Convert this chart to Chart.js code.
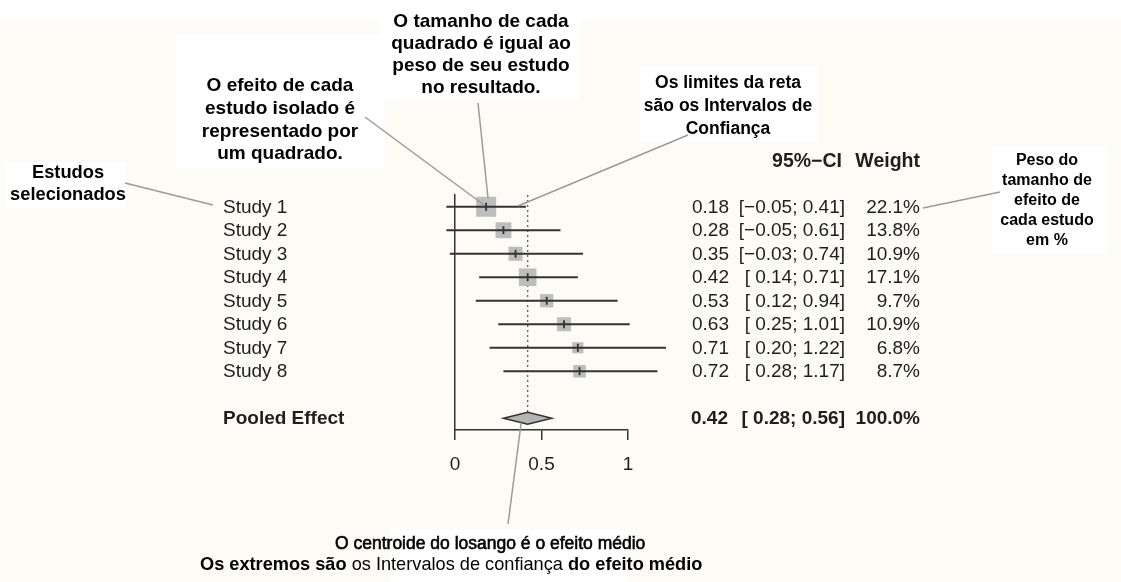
<!DOCTYPE html>
<html>
<head>
<meta charset="utf-8">
<script src="https://cdn.jsdelivr.net/npm/chart.js@4.4.1/dist/chart.umd.min.js"></script>
<style>
  html, body { margin: 0; padding: 0; background: #fdfbf6; }
  canvas { display: block; }
</style>
</head>
<body>
<canvas id="c" width="1121" height="582"></canvas>
<script>
// ---------- data ----------
const studies = ['Study 1', 'Study 2', 'Study 3', 'Study 4', 'Study 5', 'Study 6', 'Study 7', 'Study 8'];
const effects = [0.18, 0.28, 0.35, 0.42, 0.53, 0.63, 0.71, 0.72];
const lowerCI = [-0.05, -0.05, -0.03, 0.14, 0.12, 0.25, 0.20, 0.28];
const upperCI = [0.41, 0.61, 0.74, 0.71, 0.94, 1.01, 1.22, 1.17];
const weights = [22.1, 13.8, 10.9, 17.1, 9.7, 10.9, 6.8, 8.7];
const pooledLabel = 'Pooled Effect';
const pooledEffect = [0.42];
const pooledLower = [0.28];
const pooledUpper = [0.56];
const pooledWeight = [100.0];
const xTickValues = [0, 0.5, 1];
const xTickLabels = ['0', '0.5', '1'];
const columnHeaders = ['95%\u2212CI', 'Weight'];
const pooledRow = studies.length + 1;

// ---------- helpers ----------
const FONT = '"Liberation Sans", Arial, Helvetica, sans-serif';
const fmtLow = v => (v < 0 ? '\u2212' + Math.abs(v).toFixed(2) : ' ' + v.toFixed(2));
const fmtCI = (lo, hi) => '[' + fmtLow(lo) + '; ' + hi.toFixed(2) + ']';
const fmtW = w => w.toFixed(1) + '%';
const squareSide = w => 4.26 * Math.sqrt(w);

const annotations = [
  { lines: ['O tamanho de cada', 'quadrado é igual ao', 'peso de seu estudo', 'no resultado.'], cx: 481, y0: 22, lh: 22, size: 19, box: [380, 0, 200, 100] },
  { lines: ['O efeito de cada', 'estudo isolado é', 'representado por', 'um quadrado.'], cx: 280, y0: 86, lh: 22.7, size: 19, box: [176, 35, 209, 133] },
  { lines: ['Os limites da reta', 'são os Intervalos de', 'Confiança'], cx: 728, y0: 83, lh: 23, size: 17.5, box: [640, 66, 178, 76] },
  { lines: ['Estudos', 'selecionados'], cx: 68, y0: 173, lh: 22, size: 18.3, box: [5, 162, 121, 46] },
  { lines: ['Peso do', 'tamanho de', 'efeito de', 'cada estudo', 'em %'], cx: 1047, y0: 161, lh: 20, size: 16, box: [992, 146, 116, 108] }
];
const leaders = [
  [125, 183, 213, 205],
  [365, 117, 484, 205],
  [478, 103, 488, 198],
  [688, 135, 518, 206],
  [923, 208, 1000, 192],
  [508, 524, 521, 424]
];

const forestPlugin = {
  id: 'forest',
  beforeDraw(chart) {
    const ctx = chart.ctx;
    ctx.save();
    ctx.fillStyle = '#fdfbf6';
    ctx.fillRect(0, 0, chart.width, chart.height);
    ctx.fillStyle = '#ffffff';
    ctx.fillRect(0, 0, chart.width, 20);
    annotations.forEach(a => ctx.fillRect(a.box[0], a.box[1], a.box[2], a.box[3]));
    ctx.fillRect(390, 529, 238, 53);
    ctx.restore();
  },
  beforeDatasetsDraw(chart) {
    const ctx = chart.ctx, xs = chart.scales.x, ys = chart.scales.y;
    ctx.save();
    ctx.strokeStyle = '#666';
    ctx.lineWidth = 1.4;
    ctx.setLineDash([2, 3]);
    const px = xs.getPixelForValue(pooledEffect[0]);
    ctx.beginPath();
    ctx.moveTo(px, ys.top);
    ctx.lineTo(px, ys.getPixelForValue(pooledRow) - 6);
    ctx.stroke();
    ctx.restore();
  },
  afterDatasetsDraw(chart) {
    const ctx = chart.ctx, xs = chart.scales.x, ys = chart.scales.y;
    ctx.save();
    // CI lines + estimate ticks
    ctx.strokeStyle = '#333';
    ctx.lineWidth = 1.8;
    effects.forEach((e, i) => {
      const y = ys.getPixelForValue(i);
      ctx.beginPath();
      ctx.moveTo(xs.getPixelForValue(lowerCI[i]), y);
      ctx.lineTo(xs.getPixelForValue(upperCI[i]), y);
      ctx.stroke();
      const ex = xs.getPixelForValue(e);
      ctx.beginPath();
      ctx.moveTo(ex, y - 4);
      ctx.lineTo(ex, y + 4);
      ctx.stroke();
    });
    // diamond
    const yp = ys.getPixelForValue(pooledRow);
    ctx.beginPath();
    ctx.moveTo(xs.getPixelForValue(pooledLower[0]), yp);
    ctx.lineTo(xs.getPixelForValue(pooledEffect[0]), yp - 6);
    ctx.lineTo(xs.getPixelForValue(pooledUpper[0]), yp);
    ctx.lineTo(xs.getPixelForValue(pooledEffect[0]), yp + 6);
    ctx.closePath();
    ctx.fillStyle = '#b4b4b4';
    ctx.fill();
    ctx.lineWidth = 1.5;
    ctx.strokeStyle = '#333';
    ctx.stroke();

    // text columns
    ctx.fillStyle = '#1e1e1e';
    ctx.textBaseline = 'middle';
    ctx.font = '19px ' + FONT;
    studies.forEach((s, i) => {
      const y = ys.getPixelForValue(i) + 1;
      ctx.textAlign = 'left';
      ctx.fillText(s, 223, y);
      ctx.fillText(effects[i].toFixed(2), 692, y);
      ctx.textAlign = 'right';
      ctx.fillText(fmtCI(lowerCI[i], upperCI[i]), 845, y);
      ctx.fillText(fmtW(weights[i]), 920, y);
    });
    ctx.font = 'bold 19px ' + FONT;
    ctx.textAlign = 'left';
    ctx.fillText(pooledLabel, 223, yp + 1);
    ctx.fillText(pooledEffect[0].toFixed(2), 691, yp + 1);
    ctx.textAlign = 'right';
    ctx.fillText(fmtCI(pooledLower[0], pooledUpper[0]), 845, yp + 1);
    ctx.fillText(fmtW(pooledWeight[0]), 920, yp + 1);
    ctx.font = 'bold 19.5px ' + FONT;
    const yh = ys.getPixelForValue(-2) + 2;
    ctx.fillText(columnHeaders[0], 842, yh);
    ctx.fillText(columnHeaders[1], 920, yh);
    ctx.restore();
  },
  afterDraw(chart) {
    const ctx = chart.ctx;
    ctx.save();
    // leader lines
    ctx.strokeStyle = '#9a9a9a';
    ctx.lineWidth = 1.5;
    leaders.forEach(l => {
      ctx.beginPath();
      ctx.moveTo(l[0], l[1]);
      ctx.lineTo(l[2], l[3]);
      ctx.stroke();
    });
    // annotation texts
    ctx.fillStyle = '#000';
    ctx.textAlign = 'center';
    ctx.textBaseline = 'middle';
    annotations.forEach(a => {
      ctx.font = 'bold ' + a.size + 'px ' + FONT;
      a.lines.forEach((t, k) => ctx.fillText(t, a.cx, a.y0 + k * a.lh));
    });
    // bottom annotation
    ctx.textAlign = 'left';
    ctx.font = '17.5px ' + FONT;
    ctx.lineWidth = 0.6;
    ctx.strokeStyle = '#000';
    const l1 = 'O centroide do losango é o efeito médio';
    ctx.fillText(l1, 335, 544);
    ctx.strokeText(l1, 335, 544);
    const segs = [['Os extremos são ', 'bold'], ['os Intervalos de confiança ', 'normal'], ['do efeito médio', 'bold']];
    let x = 200;
    segs.forEach(s => {
      ctx.font = (s[1] === 'bold' ? 'bold ' : '') + '18.2px ' + FONT;
      ctx.fillText(s[0], x, 565);
      x += ctx.measureText(s[0]).width;
    });
    ctx.restore();
  }
};

new Chart(document.getElementById('c'), {
  type: 'scatter',
  data: {
    datasets: [{
      data: effects.map((e, i) => ({ x: e, y: i })),
      pointStyle: 'rect',
      pointRadius: ctx => squareSide(weights[ctx.dataIndex]) / Math.SQRT2,
      pointHoverRadius: ctx => squareSide(weights[ctx.dataIndex]) / Math.SQRT2,
      backgroundColor: '#bdbdbd',
      borderColor: '#bdbdbd',
      borderWidth: 0,
      clip: false
    }]
  },
  options: {
    responsive: false,
    animation: false,
    devicePixelRatio: 1,
    events: [],
    layout: { padding: { left: 455, right: 493, top: 195, bottom: 0 } },
    plugins: { legend: { display: false }, tooltip: { enabled: false } },
    scales: {
      x: {
        type: 'linear', position: 'bottom', min: 0, max: 1,
        afterBuildTicks: s => { s.ticks = xTickValues.map(v => ({ value: v })); },
        afterFit: s => { s.height = 152; },
        ticks: {
          font: { size: 19, family: FONT }, color: '#1e1e1e', padding: 13, maxRotation: 0,
          callback: (v) => xTickLabels[xTickValues.indexOf(v)]
        },
        grid: { drawOnChartArea: false, drawTicks: true, tickLength: 10, color: '#333', lineWidth: 1.5 },
        border: { display: true, color: '#333', width: 1.5 }
      },
      y: {
        type: 'linear', position: 'left', min: -0.5, max: pooledRow + 0.5, reverse: true,
        afterFit: s => { s.width = 0; },
        ticks: { display: false },
        grid: { drawOnChartArea: false, drawTicks: false },
        border: { display: true, color: '#333', width: 1.5 }
      }
    }
  },
  plugins: [forestPlugin]
});
</script>
</body>
</html>
